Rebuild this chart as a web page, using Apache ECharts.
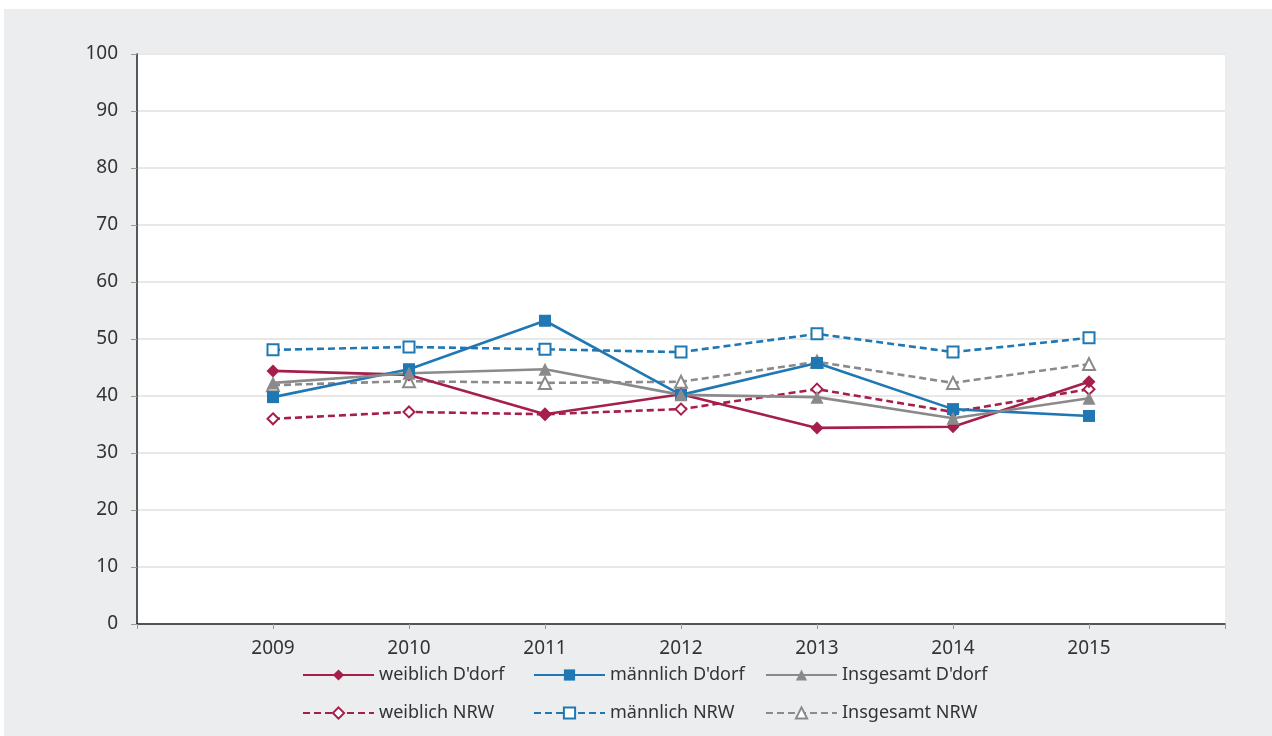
<!DOCTYPE html>
<html><head><meta charset="utf-8">
<script src="https://cdn.jsdelivr.net/npm/echarts@6/dist/echarts.min.js"></script>
<style>html,body{margin:0;padding:0;background:#fff}#c{width:1272px;height:736px}</style>
</head><body><div id="c"></div>
<script>
const years = [2009, 2010, 2011, 2012, 2013, 2014, 2015];
const weiblichDdorf = [44.4, 43.7, 36.8, 40.3, 34.4, 34.6, 42.5];
const maennlichDdorf = [39.8, 44.7, 53.2, 40.2, 45.8, 37.7, 36.5];
const insgesamtDdorf = [42.3, 44.0, 44.7, 40.2, 39.8, 36.1, 39.6];
const weiblichNRW = [36.0, 37.2, 36.8, 37.7, 41.2, 37.2, 41.2];
const maennlichNRW = [48.1, 48.6, 48.2, 47.7, 50.9, 47.7, 50.2];
const insgesamtNRW = [41.9, 42.6, 42.3, 42.5, 46.0, 42.3, 45.6];
const names = ["weiblich D'dorf", "männlich D'dorf", "Insgesamt D'dorf", "weiblich NRW", "männlich NRW", "Insgesamt NRW"];

const RED = '#a51f4a', BLUE = '#1f78b4', GRAY = '#8a8a8c';
const FONT = 'Noto Sans';
function pairs(v){ return years.map((y,i)=>[y, v[i]]); }
function solid(name, data, color, symbol, size){
  return {name, type:'line', data:pairs(data), symbol, symbolSize:size,
    lineStyle:{color, width:2.6, type:'solid'}, itemStyle:{color, borderWidth:0}, z:3};
}
function dashed(name, data, color, symbol, size){
  return {name, type:'line', data:pairs(data), symbol, symbolSize:size,
    lineStyle:{color, width:2.6, type:[7,4]}, itemStyle:{color:'#fff', borderColor:color, borderWidth:2}, z:2};
}
const chart = echarts.init(document.getElementById('c'));
const legendCommon = {orient:'vertical', itemWidth:71, itemHeight:14, itemGap:20, padding:0,
  textStyle:{fontFamily:FONT, fontSize:18, color:'#333'}, top:666};
chart.setOption({
  animation:false,
  graphic:[{type:'rect', shape:{x:4,y:9,width:1268,height:727}, style:{fill:'#ecedef'}, z:-10, silent:true}],
  grid:{left:137, right:47, top:54, bottom:112, show:true, backgroundColor:'#fff', borderWidth:0},
  legend:[
    Object.assign({left:302, data:[names[0], names[3]]}, legendCommon),
    Object.assign({left:533, data:[names[1], names[4]]}, legendCommon),
    Object.assign({left:765, data:[names[2], names[5]]}, legendCommon)
  ],
  xAxis:{type:'value', min:2008, max:2016, interval:1,
    axisLine:{show:true, lineStyle:{color:'#222', width:1.5}},
    axisTick:{show:true, length:5, lineStyle:{color:'#999'}},
    splitLine:{show:false},
    axisLabel:{margin:15, fontFamily:FONT, fontSize:19, color:'#333',
      formatter:v => years.includes(v) ? String(v) : ''}},
  yAxis:{type:'value', min:0, max:100, interval:10,
    axisLine:{show:true, lineStyle:{color:'#222', width:1.5}},
    axisTick:{show:true, length:6, lineStyle:{color:'#999'}},
    splitLine:{show:true, lineStyle:{color:'#e8e8e8', width:2}},
    axisLabel:{margin:19, fontFamily:FONT, fontSize:19, color:'#333'}},
  series:[
    solid(names[0], weiblichDdorf, RED, 'diamond', 13),
    solid(names[1], maennlichDdorf, BLUE, 'rect', 12),
    solid(names[2], insgesamtDdorf, GRAY, 'triangle', 13),
    dashed(names[3], weiblichNRW, RED, 'diamond', 11),
    dashed(names[4], maennlichNRW, BLUE, 'rect', 11),
    dashed(names[5], insgesamtNRW, GRAY, 'triangle', 12)
  ]
});
</script></body></html>
